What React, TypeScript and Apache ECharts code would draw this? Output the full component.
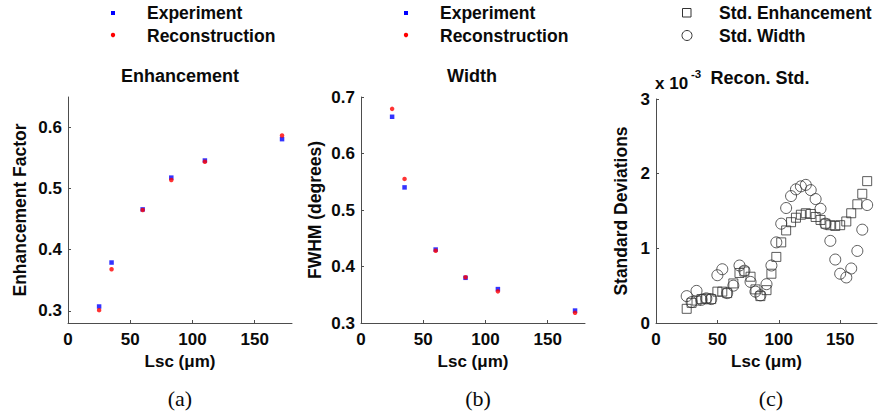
import React, { useEffect, useRef } from "react";
import * as echarts from "echarts";

// ---------- data ----------
const xTicks = [0, 50, 100, 150];

const enhX = [25, 35, 60, 83, 110, 172];
const enhExperiment = [0.307, 0.379, 0.466, 0.518, 0.546, 0.581];
const enhReconstruction = [0.301, 0.368, 0.465, 0.514, 0.544, 0.587];
const enhYTicks = [0.3, 0.4, 0.5, 0.6];

const widX = [25, 35, 60, 84, 110, 172];
const widExperiment = [0.665, 0.54, 0.43, 0.38, 0.36, 0.322];
const widReconstruction = [0.679, 0.555, 0.428, 0.381, 0.356, 0.318];
const widYTicks = [0.3, 0.4, 0.5, 0.6, 0.7];

// standard deviations, in units of 1e-3
const stdX = [25, 29, 33, 37, 41, 45, 50, 54, 58, 63, 68, 72, 77, 81, 85, 90, 94, 98, 102, 106, 110, 114, 118, 122, 126, 130, 134, 138, 142, 146, 150, 155, 159, 164, 168, 172];
const stdEnhancement = [0.19, 0.27, 0.30, 0.32, 0.33, 0.32, 0.42, 0.42, 0.40, 0.53, 0.67, 0.69, 0.62, 0.45, 0.36, 0.44, 0.66, 0.885, 1.08, 1.24, 1.35, 1.41, 1.45, 1.47, 1.46, 1.42, 1.38, 1.33, 1.31, 1.30, 1.31, 1.36, 1.47, 1.59, 1.73, 1.90];
const stdWidth = [0.36, 0.28, 0.43, 0.31, 0.33, 0.32, 0.64, 0.72, 0.40, 0.50, 0.77, 0.70, 0.55, 0.42, 0.37, 0.52, 0.77, 1.08, 1.33, 1.54, 1.70, 1.79, 1.83, 1.85, 1.78, 1.66, 1.53, 1.33, 1.10, 0.85, 0.66, 0.61, 0.73, 0.965, 1.25, 1.58];
const stdYTicks = [0, 1, 2, 3];

const FONT = "'Liberation Sans', Arial, Helvetica, sans-serif";
const SERIF = "'Liberation Serif', 'Times New Roman', serif";
const TXT = "#0a0a0a";
const AX = "#4d4d4d";

function pairs(xs: number[], ys: number[]) {
  return xs.map((x, i) => [x, ys[i]]);
}

function xAxisCfg(gridIndex: number) {
  return {
    type: "value",
    gridIndex,
    min: 0,
    max: 180,
    name: "Lsc (μm)",
    nameLocation: "middle",
    nameGap: 23,
    nameTextStyle: { fontFamily: FONT, fontWeight: "bold", fontSize: 17, color: TXT },
    axisLine: { show: true, lineStyle: { color: AX, width: 1 } },
    axisTick: { show: true, inside: true, length: 3, lineStyle: { color: AX }, customValues: xTicks },
    axisLabel: { fontFamily: FONT, fontWeight: "bold", fontSize: 17, color: TXT, margin: 8, customValues: xTicks },
    splitLine: { show: false },
  };
}

function yAxisCfg(gridIndex: number, min: number, max: number, ticks: number[], name: string, gap: number, dec: number) {
  return {
    type: "value",
    gridIndex,
    min,
    max,
    name,
    nameLocation: "middle",
    nameGap: gap,
    nameTextStyle: { fontFamily: FONT, fontWeight: "bold", fontSize: 17.5, color: TXT },
    axisLine: { show: true, lineStyle: { color: AX, width: 1 } },
    axisTick: { show: true, inside: true, length: 3, lineStyle: { color: AX }, customValues: ticks },
    axisLabel: {
      fontFamily: FONT,
      fontWeight: "bold",
      fontSize: 17,
      color: TXT,
      margin: 6,
      customValues: ticks,
      formatter: (v: number) => v.toFixed(dec),
    },
    splitLine: { show: false },
  };
}

function txt(text: string, x: number, y: number, size: number, align = "left", weight = "bold", family = FONT) {
  return {
    type: "text",
    style: {
      text,
      x,
      y,
      fill: TXT,
      font: `${weight} ${size}px ${family}`,
      textAlign: align,
      textVerticalAlign: "middle",
    },
    silent: true,
  };
}

export default function App() {
  const ref = useRef<HTMLDivElement>(null);
  useEffect(() => {
    if (!ref.current) return;
    const chart = echarts.init(ref.current, null, { renderer: "svg" });
    const hollow = { color: "rgba(0,0,0,0)", borderColor: "#333333", borderWidth: 1 };
    chart.setOption({
      animation: false,
      backgroundColor: "#ffffff",
      grid: [
        { left: 68, top: 97, width: 224, height: 226 },
        { left: 361, top: 97, width: 224, height: 226 },
        { left: 656, top: 99, width: 221, height: 224 },
      ],
      xAxis: [xAxisCfg(0), xAxisCfg(1), xAxisCfg(2)],
      yAxis: [
        yAxisCfg(0, 0.28, 0.65, enhYTicks, "Enhancement Factor", 39, 1),
        yAxisCfg(1, 0.3, 0.7, widYTicks, "FWHM (degrees)", 37, 1),
        yAxisCfg(2, 0, 3, stdYTicks, "Standard Deviations", 26, 0),
      ],
      series: [
        { type: "scatter", name: "Experiment", xAxisIndex: 0, yAxisIndex: 0, symbol: "rect", symbolSize: 4.5, itemStyle: { color: "#0000ff" }, data: pairs(enhX, enhExperiment), silent: true },
        { type: "scatter", name: "Reconstruction", xAxisIndex: 0, yAxisIndex: 0, symbol: "circle", symbolSize: 4.5, itemStyle: { color: "#ff0000" }, data: pairs(enhX, enhReconstruction), silent: true },
        { type: "scatter", name: "Experiment", xAxisIndex: 1, yAxisIndex: 1, symbol: "rect", symbolSize: 4.5, itemStyle: { color: "#0000ff" }, data: pairs(widX, widExperiment), silent: true },
        { type: "scatter", name: "Reconstruction", xAxisIndex: 1, yAxisIndex: 1, symbol: "circle", symbolSize: 4.5, itemStyle: { color: "#ff0000" }, data: pairs(widX, widReconstruction), silent: true },
        { type: "scatter", name: "Std. Enhancement", xAxisIndex: 2, yAxisIndex: 2, symbol: "rect", symbolSize: 9, itemStyle: hollow, data: pairs(stdX, stdEnhancement), silent: true },
        { type: "scatter", name: "Std. Width", xAxisIndex: 2, yAxisIndex: 2, symbol: "circle", symbolSize: 11, itemStyle: hollow, data: pairs(stdX, stdWidth), silent: true },
      ],
      graphic: [
        // legend (a)
        { type: "rect", shape: { x: 111, y: 11, width: 4, height: 4 }, style: { fill: "#0000ff" }, silent: true },
        { type: "circle", shape: { cx: 113, cy: 35, r: 2.2 }, style: { fill: "#ff0000" }, silent: true },
        txt("Experiment", 147, 13, 17.5),
        txt("Reconstruction", 147, 35.5, 17.5),
        // legend (b)
        { type: "rect", shape: { x: 404, y: 11, width: 4, height: 4 }, style: { fill: "#0000ff" }, silent: true },
        { type: "circle", shape: { cx: 406, cy: 35, r: 2.2 }, style: { fill: "#ff0000" }, silent: true },
        txt("Experiment", 440, 13, 17.5),
        txt("Reconstruction", 440, 35.5, 17.5),
        // legend (c)
        { type: "rect", shape: { x: 682.5, y: 8.5, width: 8.5, height: 8.5 }, style: { fill: "none", stroke: "#333333", lineWidth: 1 }, silent: true },
        { type: "circle", shape: { cx: 687, cy: 35.5, r: 5 }, style: { fill: "none", stroke: "#333333", lineWidth: 1 }, silent: true },
        txt("Std. Enhancement", 719, 13, 17.5),
        txt("Std. Width", 719, 35.5, 17.5),
        // titles
        txt("Enhancement", 180, 76, 18, "center"),
        txt("Width", 472, 76, 18, "center"),
        txt("Recon. Std.", 760, 78, 18, "center"),
        txt("x 10", 655, 83, 17),
        txt("-3", 691, 74, 11.5),
        // sub captions
        txt("(a)", 180, 398, 22, "center", "normal", SERIF),
        txt("(b)", 478, 398, 22, "center", "normal", SERIF),
        txt("(c)", 771, 398, 22, "center", "normal", SERIF),
      ],
    });
    return () => chart.dispose();
  }, []);
  return <div ref={ref} style={{ position: "fixed", left: 0, top: 0, width: 881, height: 413, background: "#fff" }} />;
}
